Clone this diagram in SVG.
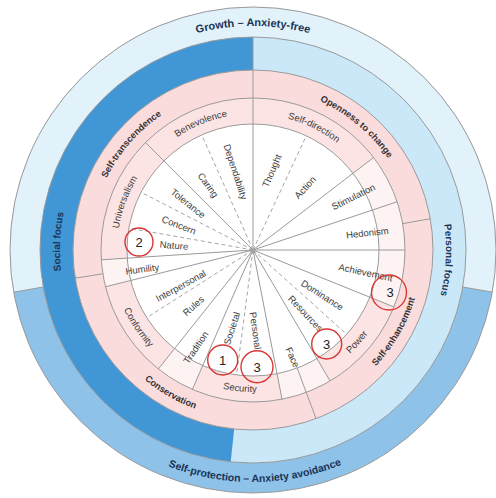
<svg xmlns="http://www.w3.org/2000/svg" width="496" height="498" viewBox="0 0 496 498">
<style>
.ln{stroke:#9a9a9a;stroke-width:1;fill:none}
.ds{stroke:#a5a5a5;stroke-width:1;fill:none;stroke-dasharray:4 3}
.band{font-family:"Liberation Sans",Arial,sans-serif;font-weight:bold;fill:#1b3456}
.hi{font-family:"Liberation Sans",Arial,sans-serif;font-weight:bold;font-size:9.2px;fill:#333}
.val{font-family:"Liberation Sans",Arial,sans-serif;font-size:9.5px;fill:#3c3c3c}
.sub{font-family:"Liberation Sans",Arial,sans-serif;font-size:9.5px;fill:#3c3c3c;text-anchor:middle;dominant-baseline:central}
.rc{fill:none;stroke:#d93535;stroke-width:1.4}
.num{font-family:"Liberation Sans",Arial,sans-serif;font-size:13px;fill:#222;text-anchor:middle;dominant-baseline:central}
</style>
<defs>
<path id="pGrowth" d="M253 474 A224 224 0 1 1 253 26 A224 224 0 1 1 253 474"/>
<path id="pProt" d="M250.98 18.01 A232 232 0 1 0 255.02 481.99 A232 232 0 1 0 250.98 18.01"/>
<path id="pSocial" d="M445.82 258.42 A193 193 0 1 1 60.18 241.58 A193 193 0 1 1 445.82 258.42"/>
<path id="pPersonal" d="M60.26 239.9 A193 193 0 1 1 445.74 260.1 A193 193 0 1 1 60.26 239.9"/>
<path id="pST" d="M376.02 356.94 A163 163 0 1 1 129.98 143.06 A163 163 0 1 1 376.02 356.94"/>
<path id="pOC" d="M148.23 374.86 A163 163 0 1 1 357.77 125.14 A163 163 0 1 1 148.23 374.86"/>
<path id="pSE" d="M106.64 165.5 A169 169 0 1 0 399.36 334.5 A169 169 0 1 0 106.64 165.5"/>
<path id="pCO" d="M337.5 103.64 A169 169 0 1 0 168.5 396.36 A169 169 0 1 0 337.5 103.64"/>
<path id="pBen" d="M304.83 375.74 A136 136 0 1 1 201.17 124.26 A136 136 0 1 1 304.83 375.74"/>
<path id="pSD" d="M192.53 371.82 A136 136 0 1 1 313.47 128.18 A136 136 0 1 1 192.53 371.82"/>
<path id="pUni" d="M380.39 297.63 A136 136 0 1 1 125.61 202.37 A136 136 0 1 1 380.39 297.63"/>
<path id="pConf" d="M370.72 170.6 A142 142 0 1 0 135.28 329.4 A142 142 0 1 0 370.72 170.6"/>
<path id="pSec" d="M266.36 108.63 A142 142 0 1 0 239.64 391.37 A142 142 0 1 0 266.36 108.63"/>
<path id="pPow" d="M146.65 155.91 A142 142 0 1 0 359.35 344.09 A142 142 0 1 0 146.65 155.91"/>
</defs>

<g id="outer-band">
<circle cx="253" cy="250" r="243" fill="#8ec2e8"/>
<path d="M253 250 L13.69 292.2 A243 243 0 1 1 492.31 292.2 Z" fill="#e1f2fb"/>
</g>
<g id="middle-band">
<circle cx="253" cy="250" r="213" fill="#cbe8f8"/>
<path d="M253 250 L230.74 461.83 A213 213 0 0 1 253 37 Z" fill="#4197d6"/>
</g>
<g id="higher-order-ring">
<circle cx="253" cy="250" r="180" fill="#fbdcdc"/>
</g>
<g id="value-ring">
<circle cx="253" cy="250" r="152" fill="#fce4e4"/>
<path d="M253 250 L373.59 157.47 A152 152 0 0 1 393.93 306.94 Z" fill="#fdf3f3"/>
<path d="M253 250 L330.15 380.97 A152 152 0 0 1 282 399.21 Z" fill="#fdf3f3"/>
<path d="M253 250 L192.39 389.39 A152 152 0 0 1 158.38 368.96 Z" fill="#fdf3f3"/>
<path d="M253 250 L105.51 286.77 A152 152 0 0 1 101.32 259.81 Z" fill="#fdf3f3"/>
<circle cx="253" cy="250" r="126" fill="#ffffff"/>
</g>
<g id="circles">
<circle cx="253" cy="250" r="243" class="ln" stroke="#9fb3c2"/>
<circle cx="253" cy="250" r="213" class="ln"/>
<circle cx="253" cy="250" r="180" class="ln"/>
<circle cx="253" cy="250" r="152" class="ln"/>
<circle cx="253" cy="250" r="126" class="ln" stroke="#b5b5b5"/>
</g>

<g id="connectors">
<line class="ln" x1="253" y1="250" x2="253" y2="37"/>
<line class="ln" x1="253" y1="250" x2="373.59" y2="157.47"/>
<line class="ln" x1="253" y1="250" x2="397.14" y2="201.77"/>
<line class="ln" x1="253" y1="250" x2="405" y2="250"/>
<line class="ln" x1="253" y1="250" x2="393.93" y2="306.94"/>
<line class="ln" x1="253" y1="250" x2="330.15" y2="380.97"/>
<line class="ln" x1="253" y1="250" x2="282" y2="399.21"/>
<line class="ln" x1="253" y1="250" x2="192.39" y2="389.39"/>
<line class="ln" x1="253" y1="250" x2="158.38" y2="368.96"/>
<line class="ln" x1="253" y1="250" x2="105.51" y2="286.77"/>
<line class="ln" x1="253" y1="250" x2="101.32" y2="259.81"/>
<line class="ln" x1="253" y1="250" x2="145.52" y2="142.52"/>
<line class="ds" x1="253" y1="250" x2="306.25" y2="135.81"/>
<line class="ds" x1="253" y1="250" x2="346.64" y2="334.31"/>
<line class="ds" x1="253" y1="250" x2="236.55" y2="374.92"/>
<line class="ds" x1="253" y1="250" x2="146.73" y2="317.7"/>
<line class="ds" x1="253" y1="250" x2="128.91" y2="228.12"/>
<line class="ds" x1="253" y1="250" x2="141.03" y2="192.21"/>
<line class="ds" x1="253" y1="250" x2="201.75" y2="134.89"/>
<line class="ln" x1="402.69" y1="223.61" x2="430.27" y2="218.74"/>
<line class="ln" x1="297.13" y1="368.02" x2="316.04" y2="418.6"/>
<line class="ln" x1="102.87" y1="273.78" x2="75.22" y2="278.16"/>
<line class="ln" x1="43.24" y1="286.99" x2="13.69" y2="292.2" stroke="#8fa8bb"/>
<line class="ln" x1="462.76" y1="286.99" x2="492.31" y2="292.2" stroke="#8fa8bb"/>
</g>

<g id="band-labels">
<text class="band" font-size="11"><textPath href="#pGrowth" startOffset="50%" text-anchor="middle">Growth – Anxiety-free</textPath></text>
<text class="band" font-size="10.5"><textPath href="#pProt" startOffset="50%" text-anchor="middle">Self-protection – Anxiety avoidance</textPath></text>
<text class="band" font-size="10"><textPath href="#pSocial" startOffset="50%" text-anchor="middle">Social focus</textPath></text>
<text class="band" font-size="10"><textPath href="#pPersonal" startOffset="50%" text-anchor="middle">Personal focus</textPath></text>
</g>
<g id="higher-order-labels">
<text class="hi"><textPath href="#pST" startOffset="50%" text-anchor="middle">Self-transcendence</textPath></text>
<text class="hi"><textPath href="#pOC" startOffset="50%" text-anchor="middle">Openness to change</textPath></text>
<text class="hi"><textPath href="#pSE" startOffset="50%" text-anchor="middle">Self-enhancement</textPath></text>
<text class="hi"><textPath href="#pCO" startOffset="50%" text-anchor="middle">Conservation</textPath></text>
</g>
<g id="value-labels">
<text class="val"><textPath href="#pBen" startOffset="50%" text-anchor="middle">Benevolence</textPath></text>
<text class="val"><textPath href="#pSD" startOffset="50%" text-anchor="middle">Self-direction</textPath></text>
<text class="val"><textPath href="#pUni" startOffset="50%" text-anchor="middle">Universalism</textPath></text>
<text class="val"><textPath href="#pConf" startOffset="50%" text-anchor="middle">Conformity</textPath></text>
<text class="val"><textPath href="#pSec" startOffset="50%" text-anchor="middle">Security</textPath></text>
<text class="val"><textPath href="#pPow" startOffset="50%" text-anchor="middle">Power</textPath></text>
</g>
<g id="sub-labels">
<text class="sub" transform="translate(235.7 171.7) rotate(72)">Dependability</text>
<text class="sub" transform="translate(208.3 185) rotate(54.5)">Caring</text>
<text class="sub" transform="translate(188.3 203.3) rotate(38.7)">Tolerance</text>
<text class="sub" transform="translate(179 225) rotate(21)">Concern</text>
<text class="sub" transform="translate(174 245.3) rotate(5)">Nature</text>
<text class="sub" transform="translate(142.3 269) rotate(-7.4)">Humility</text>
<text class="sub" transform="translate(180.7 285.7) rotate(-28.7)">Interpersonal</text>
<text class="sub" transform="translate(193.3 305.7) rotate(-42)">Rules</text>
<text class="sub" transform="translate(195.7 347.3) rotate(-56)">Tradition</text>
<text class="sub" transform="translate(231.7 328.3) rotate(-72)">Societal</text>
<text class="sub" transform="translate(255.7 330.7) rotate(82)">Personal</text>
<text class="sub" transform="translate(292.8 357.3) rotate(66)">Face</text>
<text class="sub" transform="translate(305.7 313.3) rotate(46.6)">Resources</text>
<text class="sub" transform="translate(322.3 295) rotate(32.6)">Dominance</text>
<text class="sub" transform="translate(365.7 272.3) rotate(12)">Achievement</text>
<text class="sub" transform="translate(367.3 232.7) rotate(-6.3)">Hedonism</text>
<text class="sub" transform="translate(353.3 196.7) rotate(-26.6)">Stimulation</text>
<text class="sub" transform="translate(305 187.3) rotate(-47.3)">Action</text>
<text class="sub" transform="translate(271.7 170.7) rotate(-67)">Thought</text>
</g>
<g id="marker-2"><circle class="rc" cx="139" cy="242" r="14"/><text class="num" x="139" y="242">2</text></g>
<g id="marker-1"><circle class="rc" cx="222.7" cy="360" r="15"/><text class="num" x="222.7" y="360">1</text></g>
<g id="marker-3a"><circle class="rc" cx="257" cy="366.7" r="16"/><text class="num" x="257" y="367">3</text></g>
<g id="marker-3b"><circle class="rc" cx="326.7" cy="344" r="15"/><text class="num" x="326.7" y="344">3</text></g>
<g id="marker-3c"><circle class="rc" cx="389" cy="292.5" r="17.5"/><text class="num" x="390" y="292.5">3</text></g>
</svg>
